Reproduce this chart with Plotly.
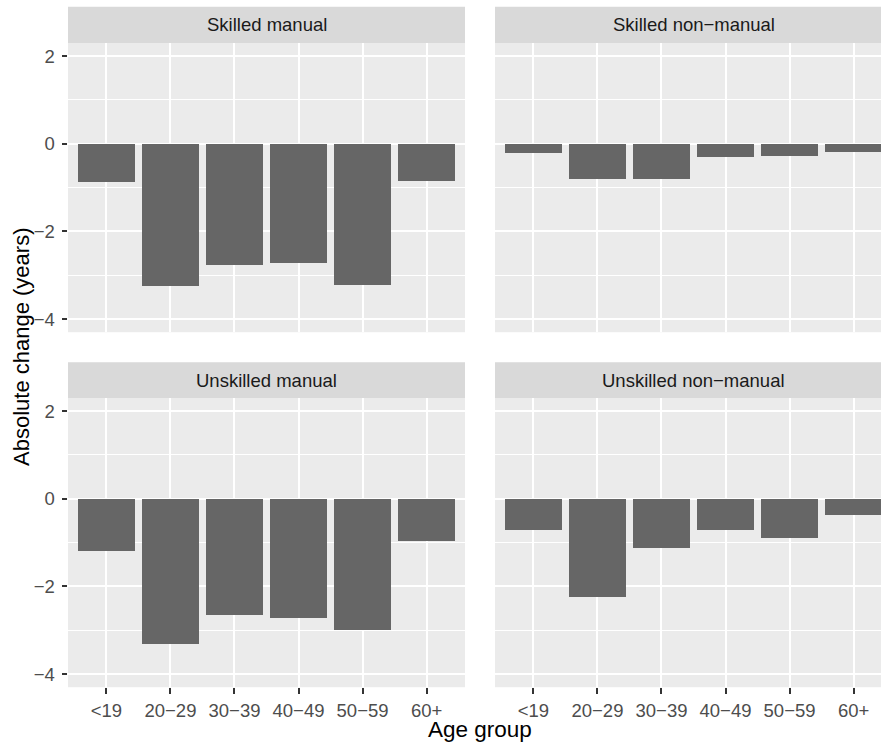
import plotly.graph_objects as go

# Age groups on the x axis
age_groups = ["<19", "20−29", "30−39", "40−49", "50−59", "60+"]

# Absolute change in years by occupational class
skilled_manual = [-0.87, -3.25, -2.76, -2.71, -3.21, -0.85]
skilled_nonmanual = [-0.21, -0.81, -0.81, -0.30, -0.27, -0.18]
unskilled_manual = [-1.19, -3.32, -2.66, -2.72, -3.00, -0.96]
unskilled_nonmanual = [-0.70, -2.24, -1.12, -0.70, -0.89, -0.38]

panel_titles = ["Skilled manual", "Skilled non−manual",
                "Unskilled manual", "Unskilled non−manual"]
panel_values = [skilled_manual, skilled_nonmanual,
                unskilled_manual, unskilled_nonmanual]

y_ticks = [-4, -2, 0, 2]
y_ticktext = ["−4", "−2", "0", "2"]

W, H = 881, 744
FONT = "Liberation Sans, Arial, Helvetica, sans-serif"
BAR = "#666666"
PANEL_BG = "#EBEBEB"
STRIP_BG = "#D9D9D9"
TICK_SIZE = 18.5

# panel geometry in pixels (left, right, top, bottom)
col_px = [(68, 465), (495, 881)]
row_px = [(42.9, 332.2), (397.9, 687.2)]
strip_px = [(6.7, 42.9), (362.2, 397.9)]
unit_px = (465 - 68) / 6.2


def px_x(v):
    return v / W


def px_y(v):
    return 1 - v / H


fig = go.Figure()
layout = dict(
    width=W, height=H,
    margin=dict(l=0, r=0, t=0, b=0),
    paper_bgcolor="white",
    plot_bgcolor=PANEL_BG,
    showlegend=False,
    bargap=0,
    font=dict(family=FONT, size=TICK_SIZE, color="#4D4D4D"),
)

shapes = []
annotations = []

for i, (title, vals) in enumerate(zip(panel_titles, panel_values)):
    r, c = divmod(i, 2)
    n = i + 1
    xa = "x" if n == 1 else f"x{n}"
    ya = "y" if n == 1 else f"y{n}"
    fig.add_trace(go.Bar(
        x=list(range(len(age_groups))), y=vals, width=0.9,
        marker=dict(color=BAR, line=dict(width=0)),
        xaxis=xa, yaxis=ya, name=title,
    ))

    x0, x1 = col_px[c]
    y0, y1 = row_px[r]
    x_hi = -0.6 + (x1 - x0) / unit_px
    layout[f"xaxis{'' if n == 1 else n}"] = dict(
        domain=[px_x(x0), px_x(x1)],
        anchor=ya,
        range=[-0.6, x_hi],
        tickmode="array",
        tickvals=list(range(len(age_groups))),
        ticktext=age_groups,
        showticklabels=(r == 1),
        ticks="outside" if r == 1 else "",
        ticklen=5.5, tickwidth=2, tickcolor="#333333",
        ticklabelstandoff=1,
        tickfont=dict(family=FONT, size=TICK_SIZE, color="#4D4D4D"),
        showgrid=True, gridcolor="white", gridwidth=2,
        zeroline=False, showline=False,
        fixedrange=True,
    )
    layout[f"yaxis{'' if n == 1 else n}"] = dict(
        domain=[px_y(y1), px_y(y0)],
        anchor=xa,
        range=[-4.3, 2.3],
        tickmode="array",
        tickvals=y_ticks,
        ticktext=y_ticktext,
        showticklabels=(c == 0),
        ticks="outside" if c == 0 else "",
        ticklen=5.5, tickwidth=2, tickcolor="#333333",
        ticklabelstandoff=3,
        tickfont=dict(family=FONT, size=TICK_SIZE, color="#4D4D4D"),
        showgrid=True, gridcolor="white", gridwidth=2,
        minor=dict(dtick=1, tick0=0, showgrid=True, gridcolor="white",
                   gridwidth=1, ticks=""),
        zeroline=False, showline=False,
        fixedrange=True,
    )

    # facet strip
    s0, s1 = strip_px[r]
    shapes.append(dict(
        type="rect", xref="paper", yref="paper",
        x0=px_x(x0), x1=px_x(x1), y0=px_y(s1), y1=px_y(s0),
        fillcolor=STRIP_BG, line=dict(width=0),
    ))
    full_right = x0 + 6.2 * unit_px
    annotations.append(dict(
        text=title, xref="paper", yref="paper",
        x=px_x((x0 + full_right) / 2), y=px_y((s0 + s1) / 2),
        xanchor="center", yanchor="middle", showarrow=False,
        font=dict(family=FONT, size=TICK_SIZE, color="#1A1A1A"),
    ))

# axis titles
annotations.append(dict(
    text="Age group", xref="paper", yref="paper",
    x=px_x(480), y=px_y(729), xanchor="center", yanchor="middle",
    showarrow=False, font=dict(family=FONT, size=22.5, color="black"),
))
annotations.append(dict(
    text="Absolute change (years)", xref="paper", yref="paper",
    x=px_x(22), y=px_y(347), xanchor="center", yanchor="middle",
    textangle=-90, showarrow=False,
    font=dict(family=FONT, size=22, color="black"),
))

layout["shapes"] = shapes
layout["annotations"] = annotations
fig.update_layout(**layout)

fig.write_html("out.html")
